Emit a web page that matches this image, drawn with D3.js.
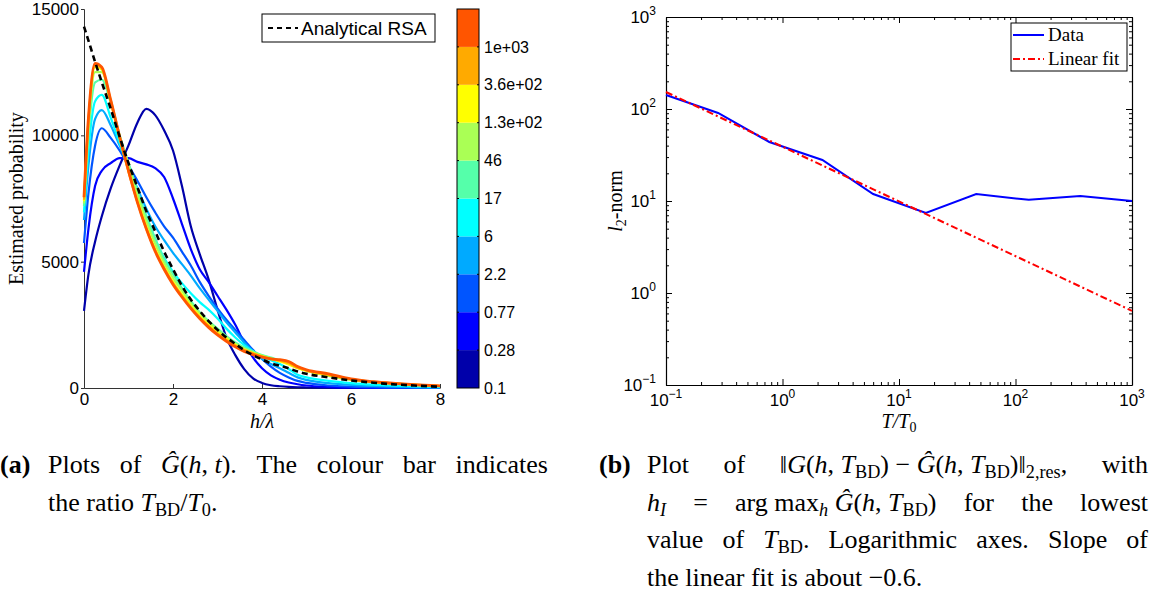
<!DOCTYPE html>
<html>
<head>
<meta charset="utf-8">
<script src="https://cdn.jsdelivr.net/npm/d3@7"></script>
<style>
body { margin: 0; background: #fff; }
#visualization { position: relative; width: 1157px; height: 594px; overflow: hidden; }
svg { position: absolute; left: 0; top: 0; }
</style>
</head>
<body>
<div id="visualization"></div>
<script>
// ---- data ----
const hGrid = [0, 0.1, 0.25, 0.4, 0.6, 0.8, 1.0, 1.2, 1.4, 1.6, 1.8, 2.0, 2.2, 2.4, 2.6, 2.8, 3.0, 3.2, 3.4, 3.6, 3.8, 4.0, 4.2, 4.4, 4.6, 4.8, 5.0, 5.5, 6.0, 6.5, 7.0, 7.5, 8.0];

const gT0_1   = [3050, 4500, 5800, 6800, 7900, 8800, 9600, 10500, 11050, 10800, 10200, 9400, 8000, 6400, 5300, 4300, 3100, 2000, 1300, 750, 380, 200, 110, 70, 45, 30, 20, 10, 5, 2, 0, 0, 0];
const gT0_28  = [4600, 6300, 8000, 8600, 8900, 9100, 9100, 8950, 8850, 8700, 8350, 7500, 6500, 5500, 4700, 4200, 3650, 3100, 2500, 1800, 1200, 780, 500, 330, 220, 150, 100, 45, 20, 8, 3, 0, 0];
const gT0_77  = [5740, 7700, 9600, 10280, 9900, 9400, 8800, 8200, 7550, 6950, 6400, 5950, 5400, 4850, 4200, 3650, 3150, 2700, 2300, 1900, 1500, 1150, 850, 600, 420, 280, 200, 100, 55, 30, 15, 8, 5];
const gT2_2   = [6650, 8800, 10650, 11000, 10400, 9600, 8750, 7900, 7100, 6400, 5850, 5350, 4900, 4450, 3950, 3500, 3050, 2600, 2200, 1800, 1450, 1150, 950, 780, 600, 420, 320, 190, 120, 80, 50, 30, 20];
const gT6     = [6950, 9400, 11350, 11600, 10700, 9700, 8700, 7700, 6800, 5900, 5150, 4600, 4150, 3750, 3400, 3100, 2750, 2350, 2000, 1700, 1450, 1250, 1100, 950, 750, 520, 420, 280, 190, 130, 90, 60, 40];
const gT17    = [7200, 10000, 12100, 12200, 11300, 10000, 8900, 7800, 6800, 5900, 5100, 4500, 3950, 3450, 3000, 2650, 2350, 2050, 1800, 1600, 1450, 1300, 1200, 1100, 950, 800, 680, 480, 320, 230, 160, 110, 70];
const gT46    = [7300, 10300, 12500, 12500, 11400, 10000, 8800, 7650, 6600, 5700, 4950, 4350, 3850, 3350, 2950, 2600, 2300, 2000, 1750, 1550, 1400, 1280, 1180, 1080, 950, 800, 680, 500, 330, 240, 170, 115, 75];
const gT130   = [7400, 10500, 12700, 12600, 11300, 9900, 8600, 7450, 6400, 5500, 4800, 4200, 3700, 3250, 2850, 2500, 2200, 1950, 1700, 1520, 1380, 1250, 1150, 1050, 930, 780, 680, 500, 330, 240, 170, 120, 80];
const gT360   = [7450, 10600, 12800, 12650, 11350, 9900, 8550, 7350, 6300, 5450, 4750, 4150, 3650, 3200, 2800, 2450, 2150, 1900, 1680, 1500, 1370, 1250, 1150, 1080, 980, 800, 700, 520, 340, 245, 175, 120, 80];
const gT1000  = [7550, 10700, 12850, 12700, 11400, 9950, 8600, 7350, 6300, 5400, 4700, 4100, 3600, 3150, 2750, 2400, 2100, 1850, 1630, 1450, 1320, 1220, 1150, 1120, 1050, 850, 720, 560, 360, 250, 180, 125, 85];
const analyticalRSA = [14300, 13750, 12900, 12100, 11050, 9950, 8900, 7950, 7000, 6200, 5400, 4700, 4050, 3500, 3050, 2650, 2300, 2000, 1750, 1500, 1300, 1130, 980, 880, 780, 650, 560, 420, 300, 210, 140, 90, 50];

const ratioValues = [0.1, 0.28, 0.77, 2.2, 6, 17, 46, 130, 360, 1000];
const ratioLabels = ["0.1", "0.28", "0.77", "2.2", "6", "17", "46", "1.3e+02", "3.6e+02", "1e+03"];
const jetColours  = ["#0000AA", "#0000FF", "#0055FF", "#00AAFF", "#00FFFF", "#55FFAA", "#AAFF55", "#FFFF00", "#FFAA00", "#FF5500"];
const probTicks = [0, 5000, 10000, 15000];
const hTicks = [0, 2, 4, 6, 8];

const l2Norm = [142, 90.6, 43.8, 27.9, 11.9, 7.4, 11.9, 10.3, 11.3, 10.0];
const fitT = [0.1, 1000];
const fitNorm = [153, 0.64];
const decades = [0.1, 1, 10, 100, 1000];

const curves = [gT0_1, gT0_28, gT0_77, gT2_2, gT6, gT17, gT46, gT130, gT360, gT1000];

// caption words: *..* italic, _{..} subscript
const captionA = [
  ["Plots", "of", "*Ĝ*(*h*, *t*).", "The", "colour", "bar", "indicates"],
  ["the", "ratio", "*T*_{BD}/*T*_{0}."]
];
const captionB = [
  ["Plot", "of", "‖*G*(*h*, *T*_{BD}) − *Ĝ*(*h*, *T*_{BD})‖_{2,res},", "with"],
  ["*h*_{*I*}", "=", "arg max_{*h*} *Ĝ*(*h*, *T*_{BD})", "for", "the", "lowest"],
  ["value", "of", "*T*_{BD}.", "Logarithmic", "axes.", "Slope", "of"],
  ["the", "linear", "fit", "is", "about", "−0.6."]
];

// ---- page ----
const width = 1157, height = 594;
const parent = d3.select("#visualization");
const svg = parent.append("svg").attr("width", width).attr("height", height);
const sans = "'Liberation Sans', Arial, sans-serif";
const serif = "'Liberation Serif', 'Times New Roman', serif";

// ===== left panel =====
const left = {l: 84, r: 440, t: 9, b: 388};
const x1 = d3.scaleLinear().domain([0, 8]).range([left.l, left.r]);
const y1 = d3.scaleLinear().domain([0, 15000]).range([left.b, left.t]);

const gA = svg.append("g");
const ax1 = gA.append("g")
  .attr("transform", `translate(0,${left.b})`)
  .call(d3.axisBottom(x1).tickValues(hTicks).tickFormat(d3.format("d")).tickSizeInner(-4).tickSizeOuter(0).tickPadding(5));
const ay1 = gA.append("g")
  .attr("transform", `translate(${left.l},0)`)
  .call(d3.axisLeft(y1).tickValues(probTicks).tickFormat(d3.format("d")).tickSize(3).tickPadding(2));
[ax1, ay1].forEach(a => {
  a.selectAll("text").attr("font-family", sans).attr("font-size", 17).attr("fill", "#000");
  a.select(".domain").attr("stroke", "#333");
  a.selectAll(".tick line").attr("stroke", "#333");
});

const line1 = d3.line().x((d, i) => x1(hGrid[i])).y(d => y1(d)).curve(d3.curveMonotoneX);
gA.selectAll("path.curve")
  .data(curves)
  .join("path")
  .attr("class", "curve")
  .attr("d", d => line1(d))
  .attr("fill", "none")
  .attr("stroke", (d, i) => jetColours[i])
  .attr("stroke-width", (d, i) => i === 9 ? 2.8 : 2.2)
  .attr("stroke-linejoin", "round");

gA.append("path")
  .attr("d", line1(analyticalRSA))
  .attr("fill", "none")
  .attr("stroke", "#000")
  .attr("stroke-width", 2.6)
  .attr("stroke-dasharray", "6,4");

// legend
const lg1 = gA.append("g");
lg1.append("rect").attr("x", 262).attr("y", 14).attr("width", 173).attr("height", 28)
  .attr("fill", "#fff").attr("stroke", "#000").attr("stroke-width", 1);
lg1.append("line").attr("x1", 268).attr("x2", 298).attr("y1", 28).attr("y2", 28)
  .attr("stroke", "#000").attr("stroke-width", 2).attr("stroke-dasharray", "5,4");
lg1.append("text").attr("x", 301).attr("y", 35).attr("font-family", sans).attr("font-size", 19).text("Analytical RSA");

// axis labels
gA.append("text")
  .attr("transform", `translate(23,${(left.t + left.b) / 2}) rotate(-90)`)
  .attr("text-anchor", "middle").attr("font-family", serif).attr("font-size", 20)
  .text("Estimated probability");
gA.append("text")
  .attr("x", (left.l + left.r) / 2).attr("y", 428)
  .attr("text-anchor", "middle").attr("font-family", serif).attr("font-size", 20).attr("font-style", "italic")
  .text("h/λ");

// colour bar
const cb = {l: 457, r: 479};
const yc = d3.scaleLinear().domain([0, ratioValues.length]).range([left.b, left.t]);
const gC = svg.append("g");
gC.selectAll("rect.band")
  .data(jetColours)
  .join("rect")
  .attr("class", "band")
  .attr("x", cb.l).attr("width", cb.r - cb.l)
  .attr("y", (d, i) => yc(i + 1)).attr("height", (d, i) => yc(i) - yc(i + 1))
  .attr("fill", d => d);
gC.append("rect").attr("x", cb.l).attr("y", left.t).attr("width", cb.r - cb.l).attr("height", left.b - left.t)
  .attr("fill", "none").attr("stroke", "#000").attr("stroke-width", 1);
gC.selectAll("line.cbt")
  .data(d3.range(1, ratioValues.length))
  .join("line")
  .attr("class", "cbt")
  .attr("x1", cb.l).attr("x2", cb.l + 2).attr("y1", d => yc(d)).attr("y2", d => yc(d))
  .attr("stroke", "#000");
gC.selectAll("line.cbt2")
  .data(d3.range(1, ratioValues.length))
  .join("line")
  .attr("class", "cbt2")
  .attr("x1", cb.r - 2).attr("x2", cb.r).attr("y1", d => yc(d)).attr("y2", d => yc(d))
  .attr("stroke", "#000");
gC.selectAll("text")
  .data(ratioLabels)
  .join("text")
  .attr("x", 484).attr("y", (d, i) => yc(i)).attr("dy", "0.35em")
  .attr("font-family", sans).attr("font-size", 16)
  .text(d => d);

// ===== right panel =====
const right = {l: 666, r: 1132, t: 17, b: 385};
const x2 = d3.scaleLog().domain([0.1, 1000]).range([right.l, right.r]);
const y2 = d3.scaleLog().domain([0.1, 1000]).range([right.b, right.t]);
const gB = svg.append("g");

function logAxis(axisFn, scale, pos, len, transform) {
  const g = gB.append("g").attr("transform", transform);
  g.call(axisFn(scale).tickValues(scale.ticks()).tickFormat("").tickSizeInner(-3).tickSizeOuter(0));
  g.selectAll(".tick line").filter(d => decades.includes(d)).attr(pos, len);
  g.selectAll(".tick line").attr("stroke", "#000");
  g.select(".domain").attr("stroke", "#000").attr("stroke-width", 1.2);
  return g;
}
logAxis(d3.axisBottom, x2, "y2", -6, `translate(0,${right.b})`);
logAxis(d3.axisTop, x2, "y2", 6, `translate(0,${right.t})`);
logAxis(d3.axisLeft, y2, "x2", 6, `translate(${right.l},0)`);
logAxis(d3.axisRight, y2, "x2", -6, `translate(${right.r},0)`);

function powerLabel(sel, d) {
  const e = Math.round(Math.log10(d));
  sel.append("tspan").text("10");
  sel.append("tspan").attr("dy", -8).attr("font-size", 12).text(e < 0 ? "−" + (-e) : e);
}
gB.selectAll("text.xl")
  .data(decades)
  .join("text")
  .attr("class", "xl")
  .attr("x", d => x2(d)).attr("y", 406)
  .attr("text-anchor", "middle").attr("font-family", sans).attr("font-size", 17)
  .each(function(d) { powerLabel(d3.select(this), d); });
gB.selectAll("text.yl")
  .data(decades)
  .join("text")
  .attr("class", "yl")
  .attr("x", 656).attr("y", d => y2(d) + 6)
  .attr("text-anchor", "end").attr("font-family", sans).attr("font-size", 17)
  .each(function(d) { powerLabel(d3.select(this), d); });

const line2 = d3.line().x(d => x2(d[0])).y(d => y2(d[1]));
gB.append("path")
  .attr("d", line2(ratioValues.map((t, i) => [t, l2Norm[i]])))
  .attr("fill", "none").attr("stroke", "#0000FF").attr("stroke-width", 2);
gB.append("path")
  .attr("d", line2(fitT.map((t, i) => [t, fitNorm[i]])))
  .attr("fill", "none").attr("stroke", "#FF0000").attr("stroke-width", 2)
  .attr("stroke-dasharray", "7,3,2,3");

// legend
const lg2 = gB.append("g");
lg2.append("rect").attr("x", 1011).attr("y", 23).attr("width", 116).attr("height", 48)
  .attr("fill", "#fff").attr("stroke", "#000").attr("stroke-width", 1);
lg2.append("line").attr("x1", 1013).attr("x2", 1044).attr("y1", 35).attr("y2", 35)
  .attr("stroke", "#0000FF").attr("stroke-width", 2);
lg2.append("line").attr("x1", 1013).attr("x2", 1044).attr("y1", 59).attr("y2", 59)
  .attr("stroke", "#FF0000").attr("stroke-width", 2).attr("stroke-dasharray", "7,3,2,3");
lg2.append("text").attr("x", 1048).attr("y", 41).attr("font-family", serif).attr("font-size", 19).text("Data");
lg2.append("text").attr("x", 1048).attr("y", 65).attr("font-family", serif).attr("font-size", 19).text("Linear fit");

const yl2 = gB.append("text")
  .attr("transform", `translate(622,${(right.t + right.b) / 2}) rotate(-90)`)
  .attr("text-anchor", "middle").attr("font-family", serif).attr("font-size", 20);
yl2.append("tspan").attr("font-style", "italic").text("l");
yl2.append("tspan").attr("font-size", 14).attr("dy", 4).text("2");
yl2.append("tspan").attr("dy", -4).text("-norm");

const xl2 = gB.append("text")
  .attr("x", (right.l + right.r) / 2).attr("y", 428)
  .attr("text-anchor", "middle").attr("font-family", serif).attr("font-size", 20).attr("font-style", "italic");
xl2.append("tspan").text("T/T");
xl2.append("tspan").attr("font-size", 14).attr("dy", 4).attr("font-style", "normal").text("0");

// ===== captions (justified by hand) =====
const capSize = 26, subDy = 5;
function rich(t, str) {
  let off = 0;
  str.split(/(\*[^*]+\*|_\{[^}]+\})/).filter(s => s.length).forEach(p => {
    if (p.startsWith("_{")) {
      p.slice(2, -1).split(/(\*[^*]+\*)/).filter(s => s.length).forEach(q => {
        const it = q.startsWith("*");
        t.append("tspan").attr("font-size", capSize * 0.7).attr("dy", subDy - off)
          .attr("font-style", it ? "italic" : null).text(it ? q.slice(1, -1) : q);
        off = subDy;
      });
    } else {
      const it = p.startsWith("*");
      t.append("tspan").attr("dy", -off).attr("font-style", it ? "italic" : null).text(it ? p.slice(1, -1) : p);
      off = 0;
    }
  });
}
function caption(label, lx, tx, w, lines) {
  const g = svg.append("g");
  g.append("text").attr("x", lx).attr("y", 473)
    .attr("font-family", serif).attr("font-size", capSize).attr("font-weight", "bold").text(label);
  lines.forEach((words, li) => {
    const y = 473 + li * 37.7;
    const nodes = words.map(wd => {
      const t = g.append("text").attr("y", y)
        .attr("font-family", serif).attr("font-size", capSize)
        .style("white-space", "pre");
      rich(t, wd);
      return t;
    });
    const widths = nodes.map(n => n.node().getComputedTextLength());
    const total = d3.sum(widths);
    const justify = li < lines.length - 1;
    const gap = justify ? (w - total) / (words.length - 1) : capSize * 0.25;
    let x = tx;
    nodes.forEach((n, i) => { n.attr("x", x); x += widths[i] + gap; });
  });
}
caption("(a)", 0, 48, 500, captionA);
caption("(b)", 599, 647, 501, captionB);
</script>
</body>
</html>
